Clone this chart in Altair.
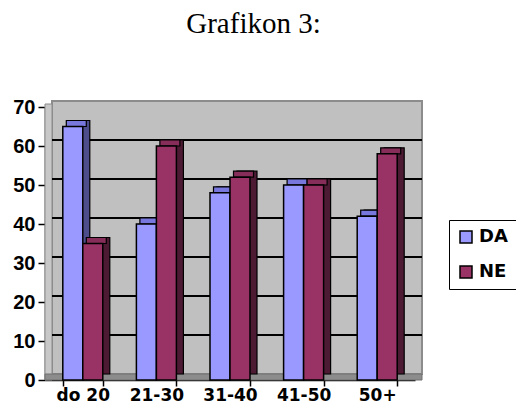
import altair as alt
import pandas as pd

title_text = ["Grafikon 3:"]
categories = ["do 20", "21-30", "31-40", "41-50", "50+"]
da_values = [65, 40, 48, 50, 42]
ne_values = [35, 60, 52, 50, 58]
series_names = ["DA", "NE"]
grid_values = [10, 20, 30, 40, 50, 60]
y_ticks = [0, 10, 20, 30, 40, 50, 60, 70]

front_colors = ["#9999FF", "#993366"]
top_colors = ["#7777DD", "#862D59"]
side_colors = ["#4D4D8C", "#4D1A33"]

rows = []
for c, d, n in zip(categories, da_values, ne_values):
    rows.append({"cat": c, "series": "DA", "value": d})
    rows.append({"cat": c, "series": "NE", "value": n})
df = pd.DataFrame(rows)
one = pd.DataFrame({"t": title_text})
grid_df = pd.DataFrame({"v": grid_values})

W, H = 370, 273
DX, DY = 7, 6
sans = "Liberation Sans"
wide = "DejaVu Sans"

y_scale = alt.Scale(domain=[0, 70])
y_axis = alt.Axis(values=y_ticks, labelFont=sans,
                  labelFontWeight="bold", labelFontSize=20, labelColor="black",
                  domainColor="black", tickColor="black", tickSize=7,
                  domainWidth=1.5, tickWidth=1.5, grid=False, labelPadding=3,
                  labelOverlap=False, labelBound=False, labelFlush=False)

x = alt.X("cat:N", sort=categories, title=None,
          scale=alt.Scale(paddingInner=0.4565, paddingOuter=0.2418),
          axis=alt.Axis(labelAngle=0, labelFont=wide, labelFontWeight="bold",
                        labelFontSize=17, labelColor="black", domainColor="black",
                        tickColor="black", tickBand="extent", tickSize=6,
                        domainWidth=1.5, tickWidth=1.5, labelPadding=1, grid=False,
                        labelOverlap=False))
y = alt.Y("value:Q", title=None, scale=y_scale, axis=y_axis)

wall = alt.Chart(one).mark_rect(fill="#C0C0C0", stroke="#8C8C8C", strokeWidth=2).encode(
    x=alt.value(DX), x2=alt.value(W + DX), y=alt.value(-DY), y2=alt.value(H - DY))
side_wall = alt.Chart(one).mark_rect(fill="#C8C8C8", stroke="#8C8C8C", strokeWidth=1).encode(
    x=alt.value(0), x2=alt.value(DX), y=alt.value(-DY + 3), y2=alt.value(H))
floor = alt.Chart(one).mark_rect(fill="#8C8C8C", stroke="#707070", strokeWidth=1).encode(
    x=alt.value(0), x2=alt.value(W + DX), y=alt.value(H - DY), y2=alt.value(H))
grid = alt.Chart(grid_df).mark_rule(color="black", strokeWidth=2, yOffset=-DY).encode(
    y=alt.Y("v:Q", title=None, scale=y_scale, axis=y_axis),
    x=alt.value(DX), x2=alt.value(W + DX))

depth = alt.Chart(df).mark_bar(yOffset=-DY, y2Offset=-DY, stroke="black", strokeWidth=1.2).encode(
    x=x, y=y,
    xOffset=alt.XOffset("series:N", sort=series_names, scale=alt.Scale(range=[DX, 40 + DX])),
    color=alt.Color("series:N", scale=alt.Scale(domain=series_names, range=side_colors), legend=None),
)
topface = alt.Chart(df).mark_bar(yOffset=-DY, y2Offset=0, stroke="black", strokeWidth=1.2).encode(
    x=x, y=y, y2=alt.Y2("value:Q"),
    xOffset=alt.XOffset("series:N", sort=series_names, scale=alt.Scale(range=[DX / 2, 40 + DX / 2])),
    color=alt.Color("series:N", scale=alt.Scale(domain=series_names, range=top_colors), legend=None),
)
front = alt.Chart(df).mark_bar(stroke="black", strokeWidth=1.5).encode(
    x=x, y=y,
    xOffset=alt.XOffset("series:N", sort=series_names, scale=alt.Scale(range=[0, 40])),
    color=alt.Color("series:N", title=None,
                    scale=alt.Scale(domain=series_names, range=front_colors),
                    legend=alt.Legend(orient="none", legendX=404, legendY=113,
                                      labelFont=wide, labelFontWeight="bold",
                                      labelFontSize=18, labelColor="black",
                                      symbolType="square", symbolSize=144,
                                      symbolStrokeColor="black", symbolStrokeWidth=1.5,
                                      strokeColor="black",
                                      padding=8, rowPadding=17, labelOffset=4,
                                      fillColor="white")),
)
title = alt.Chart(one).mark_text(font="Liberation Serif", fontSize=29, color="black",
                                 align="center", baseline="alphabetic").encode(
    text="t:N", x=alt.value(208.5), y=alt.value(-74))

chart = alt.layer(wall, side_wall, floor, grid, depth, topface, front, title).resolve_scale(
    color="independent", xOffset="independent"
).properties(
    width=W, height=H,
    autosize=alt.AutoSizeParams(type="none"),
    padding={"left": 37, "top": 99, "right": 101, "bottom": 26},
).configure_view(stroke=None, fill=None)

chart.save("out.html", embed_options={"renderer": "svg", "actions": False})
